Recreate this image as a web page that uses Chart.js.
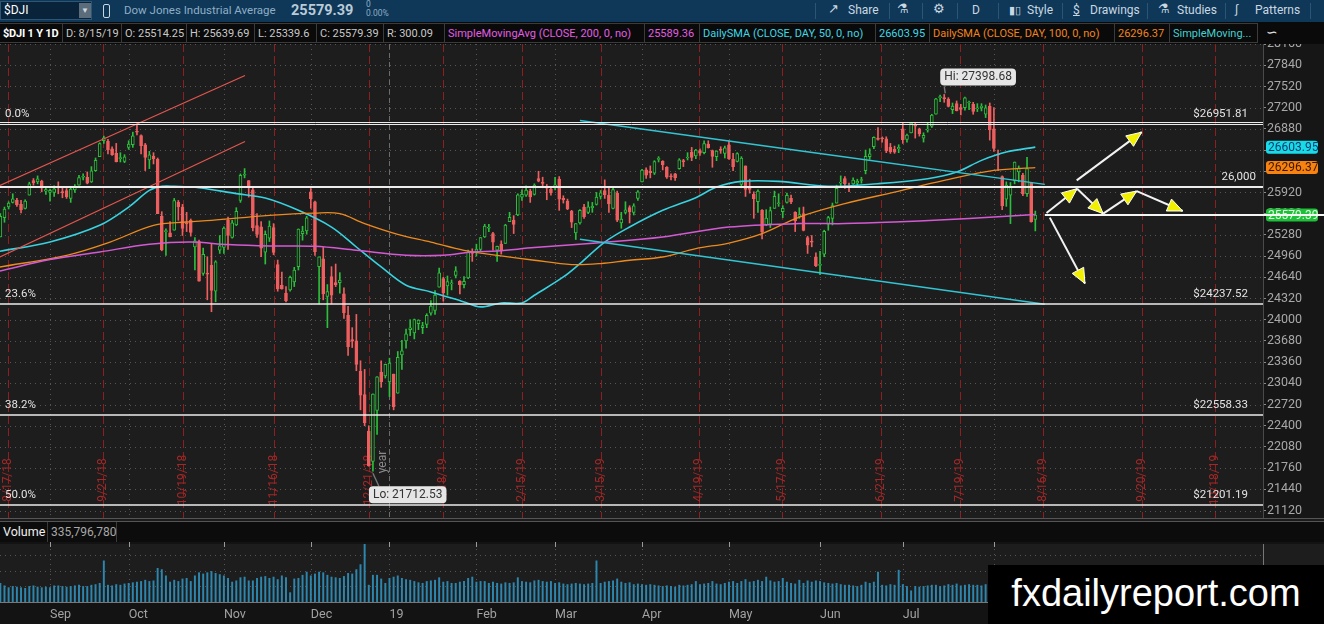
<!DOCTYPE html>
<html>
<head>
<meta charset="utf-8">
<title>$DJI 1 Y 1D</title>
<script src="https://cdn.jsdelivr.net/npm/chart.js@4.4.0/dist/chart.umd.min.js"></script>
<style>
  body { margin:0; width:1324px; height:624px; overflow:hidden; background:#161616; position:relative; font-family:Roboto,"Noto Sans",sans-serif; }
  .abs { position:absolute; white-space:nowrap; }
  #bar1 { left:0; top:0; width:1324px; height:22px; background:#0f3757; }
  #bar2 { left:0; top:22px; width:1324px; height:22px; background:#0a0a0a; }
  .t1 { color:#c9d7e2; font-size:12px; top:3px; }
  .sep { top:3px; width:1px; height:16px; background:#2b5575; }
  .cell { top:1px; height:20px; line-height:19px; font-size:11px; color:#c8c8c8; border:1px solid #3b3b3b; border-left:none; padding-left:3px; box-sizing:border-box; overflow:hidden; }
  #main { left:0; top:44px; }
  #volsep { left:0; top:518px; width:1324px; height:4px; border-top:1px solid #555; border-bottom:1px solid #555; box-sizing:border-box; background:#1b1b1b; }
  #volhead { left:0; top:522px; width:1324px; height:20px; background:#0c0c0c; }
  #vol { left:0; top:542px; }
  #wm { left:988px; top:565px; width:336px; height:59px; background:#000; color:#fff; font-family:"Liberation Sans",Arial,sans-serif; font-size:38px; line-height:56px; text-align:center; }
</style>
</head>
<body>
<div id="bar1" class="abs">
  <div class="abs" style="left:0;top:1px;width:92px;height:19px;background:#08233a;border:1px solid #2d5575;box-sizing:border-box;"></div>
  <div class="abs" style="left:4px;top:3px;color:#fff;font-size:12px;">$DJI</div>
  <div class="abs" style="left:79px;top:3px;width:12px;height:15px;background:#5b6d7b;color:#cfd8df;font-size:8px;line-height:15px;text-align:center;">&#9660;</div>
  <div class="abs" style="left:103px;top:4px;width:5px;height:12px;border:1px solid #c9d7e2;border-radius:2px;"></div>
  <div class="abs" style="left:124px;top:3px;color:#8eaec6;font-size:11.5px;">Dow Jones Industrial Average</div>
  <div class="abs" style="left:291px;top:2px;color:#b9cbd8;font-size:14.5px;font-weight:bold;">25579.39</div>
  <div class="abs" style="left:366px;top:0px;color:#8eaec6;font-size:8.5px;line-height:9px;">0<br>0.00%</div>
  <div class="abs sep" style="left:815px;"></div>
  <div class="abs t1" style="left:828px;font-size:13px;top:1px;">&#8599;</div>
  <div class="abs t1" style="left:848px;">Share</div>
  <div class="abs sep" style="left:889px;"></div>
  <div class="abs t1" style="left:897px;font-size:13px;top:1px;">&#9879;</div>
  <div class="abs sep" style="left:922px;"></div>
  <div class="abs t1" style="left:933px;font-size:13px;top:1px;">&#9881;</div>
  <div class="abs sep" style="left:957px;"></div>
  <div class="abs t1" style="left:972px;">D</div>
  <div class="abs sep" style="left:998px;"></div>
  <div class="abs t1" style="left:1009px;font-size:11px;top:4px;">&#9646;&#9647;</div>
  <div class="abs t1" style="left:1027px;">Style</div>
  <div class="abs sep" style="left:1062px;"></div>
  <div class="abs t1" style="left:1073px;text-decoration:underline;">$</div>
  <div class="abs t1" style="left:1090px;">Drawings</div>
  <div class="abs sep" style="left:1147px;"></div>
  <div class="abs t1" style="left:1158px;font-size:13px;top:1px;">&#9879;</div>
  <div class="abs t1" style="left:1177px;">Studies</div>
  <div class="abs sep" style="left:1225px;"></div>
  <div class="abs t1" style="left:1235px;font-size:12px;top:2px;">&#8747;</div>
  <div class="abs t1" style="left:1255px;">Patterns</div>
  <div class="abs sep" style="left:1310px;"></div>
</div>
<div id="bar2" class="abs">
  <div class="abs cell" style="left:0;width:63px;color:#fff;font-weight:bold;letter-spacing:-0.2px;">$DJI 1 Y 1D</div>
  <div class="abs cell" style="left:63px;width:59px;">D: 8/15/19</div>
  <div class="abs cell" style="left:122px;width:65px;">O: 25514.25</div>
  <div class="abs cell" style="left:187px;width:68px;">H: 25639.69</div>
  <div class="abs cell" style="left:255px;width:62px;">L: 25339.6</div>
  <div class="abs cell" style="left:317px;width:67px;">C: 25579.39</div>
  <div class="abs cell" style="left:384px;width:61px;">R: 300.09</div>
  <div class="abs cell" style="left:445px;width:200px;color:#e25ee2;">SimpleMovingAvg (CLOSE, 200, 0, no)</div>
  <div class="abs cell" style="left:645px;width:55px;color:#e25ee2;">25589.36</div>
  <div class="abs cell" style="left:700px;width:176px;color:#3fd6e6;">DailySMA (CLOSE, DAY, 50, 0, no)</div>
  <div class="abs cell" style="left:876px;width:54px;color:#3fd6e6;">26603.95</div>
  <div class="abs cell" style="left:930px;width:185px;color:#f0841f;">DailySMA (CLOSE, DAY, 100, 0, no)</div>
  <div class="abs cell" style="left:1115px;width:55px;color:#f0841f;">26296.37</div>
  <div class="abs cell" style="left:1170px;width:88px;color:#44d0d0;">SimpleMoving...</div>
  <div class="abs" style="left:1266px;top:2px;color:#ddd;font-size:14px;">&#8765;</div>
</div>
<canvas id="main" class="abs" width="1324" height="476"></canvas>
<div id="volsep" class="abs"></div>
<div id="volhead" class="abs">
  <div class="abs" style="left:3px;top:2px;color:#f0f0f0;font-size:12.5px;">Volume</div>
  <div class="abs" style="left:47px;top:0px;width:70px;height:20px;border-left:1px solid #3a3a3a;border-right:1px solid #3a3a3a;box-sizing:border-box;color:#a8a8a8;font-size:12px;line-height:20px;padding-left:3px;">335,796,780</div>
</div>
<canvas id="vol" class="abs" width="1324" height="82"></canvas>
<div id="wm" class="abs">fxdailyreport.com</div>

<script>
// trading-day index of the first candle (index 0 = 9/4/18, first session of September)
const firstIdx = -12;

// daily candles [open, high, low, close], 8/16/18 .. 8/15/19
const candles = [
  // Aug 2018
  [25250,25600,25250,25559],[25540,25700,25470,25669],[25700,25780,25670,25759],[25770,25900,25760,25822],[25800,25830,25710,25734],[25740,25800,25610,25657],
  [25680,25810,25670,25790],[25880,26075,25880,26050],[26100,26130,26030,26064],[26080,26170,26050,26125],[26090,26105,25930,25987],[25940,26010,25890,25965],
  // Sep
  [25920,25970,25790,25952],[25920,26020,25860,25975],[26000,26080,25900,25996],[25930,26000,25840,25917],[25950,25980,25830,25857],[25830,26000,25770,25971],
  [25960,26040,25920,25999],[26030,26180,26030,26146],[26150,26200,26110,26155],[26150,26230,26050,26062],[26080,26310,26070,26247],[26250,26440,26240,26406],
  [26460,26670,26460,26657],[26700,26770,26660,26744],[26690,26720,26500,26562],[26580,26610,26480,26492],[26510,26660,26380,26385],[26430,26520,26380,26440],
  [26390,26490,26370,26458],
  // Oct
  [26600,26700,26570,26651],[26640,26830,26600,26774],[26830,26952,26790,26828],[26780,26790,26500,26627],[26640,26660,26250,26447],[26410,26540,26280,26487],
  [26470,26520,26350,26431],[26420,26440,25600,25599],[25560,25630,25040,25053],[25330,25370,24970,25340],[25310,25480,25250,25251],[25350,25830,25350,25798],
  [25770,25800,25500,25707],[25700,25740,25270,25379],[25450,25620,25330,25444],[25500,25520,25260,25317],[25100,25240,24750,25191],[25180,25200,24580,24583],
  [24700,25080,24670,24985],[24700,24950,24300,24688],[24820,25150,24120,24443],[24430,24890,24270,24875],[25050,25270,25000,25116],
  // Nov
  [25090,25400,25000,25381],[25500,25550,25060,25271],[25240,25500,25230,25462],[25430,25690,25420,25635],[25800,26200,25770,26180],[26180,26280,26140,26191],
  [26100,26100,25850,25989],[25960,26010,25340,25387],[25420,25600,25240,25286],[25400,25480,24950,25081],[25020,25340,24840,25289],[25230,25490,25180,25413],
  [25390,25450,24980,25017],[24830,24900,24430,24466],[24520,24720,24460,24465],[24400,24500,24270,24286],[24450,24660,24430,24640],[24570,24790,24500,24749],
  [24800,25370,24750,25366],[25300,25410,25200,25339],[25340,25560,25290,25538],
  // Dec
  [25930,25980,25680,25826],[25780,25790,24970,25027],[24800,24950,24240,24948],[24920,25090,24300,24389],[24350,24530,23880,24423],[24650,24800,24240,24370],
  [24560,24840,24500,24527],[24560,24710,24400,24597],[24390,24480,24020,24101],[24070,24200,23460,23593],[23700,23880,23580,23676],[23680,24080,23230,23324],
  [23220,23380,22640,22860],[22870,23250,22400,22445],[22320,22400,21790,21792],[21860,22880,21713,22878],[22630,23140,22270,23139],[23210,23380,22980,23062],
  [23150,23330,23120,23327],
  // Jan 2019
  [23060,23420,22840,23346],[23180,23180,22640,22686],[22890,23520,22890,23433],[23470,23690,23250,23531],[23680,23860,23570,23787],[23850,24000,23760,23879],
  [23800,24010,23710,24002],[23940,24000,23850,23996],[23880,23960,23790,23910],[23930,24090,23880,24066],[24100,24290,24070,24207],[24140,24440,24080,24370],
  [24490,24780,24490,24706],[24620,24640,24280,24404],[24510,24660,24370,24576],[24540,24600,24450,24553],[24670,24800,24630,24737],[24580,24590,24390,24528],
  [24530,24650,24480,24580],[24630,25050,24620,25015],[25020,25070,24880,25000],
  // Feb
  [25030,25140,24960,25064],[25060,25240,25030,25239],[25250,25440,25240,25412],[25380,25440,25330,25390],[25300,25320,25050,25170],[25050,25110,24880,25106],
  [25140,25190,24990,25053],[25150,25440,25150,25426],[25480,25620,25480,25543],[25500,25570,25300,25439],[25580,25900,25570,25883],[25850,25960,25800,25891],
  [25880,26020,25860,25954],[25940,25970,25770,25851],[25890,26050,25880,26032],[26130,26240,26080,26092],[26060,26150,25990,26058],[25990,26040,25810,25985],
  [25970,26000,25880,25916],
  // Mar
  [26020,26150,25960,26026],[26120,26160,25650,25820],[25830,25870,25760,25807],[25790,25820,25660,25673],[25640,25650,25390,25473],[25310,25450,25210,25450],
  [25460,25660,25440,25651],[25700,25740,25530,25555],[25620,25780,25600,25703],[25690,25770,25620,25710],[25740,25920,25730,25849],[25860,25950,25820,25914],
  [25950,26110,25830,25887],[25880,25990,25620,25746],[25680,26000,25670,25963],[25910,25940,25480,25502],[25460,25620,25380,25517],[25620,25780,25600,25658],
  [25690,25720,25460,25626],[25620,25750,25580,25717],[25830,25950,25800,25929],
  // Apr
  [26080,26270,26080,26258],[26260,26290,26130,26179],[26240,26320,26140,26218],[26210,26400,26190,26385],[26420,26460,26380,26425],[26390,26400,26260,26341],
  [26300,26310,26130,26151],[26170,26200,26110,26157],[26200,26210,26100,26143],[26280,26430,26270,26412],[26400,26420,26310,26385],[26440,26520,26410,26453],
  [26530,26600,26400,26450],[26470,26570,26430,26560],[26550,26580,26480,26511],[26520,26700,26500,26656],[26650,26700,26590,26597],[26550,26560,26300,26462],
  [26460,26550,26400,26543],[26560,26610,26510,26554],[26510,26620,26440,26593],
  // May
  [26640,26700,26420,26430],[26420,26510,26250,26308],[26390,26520,26380,26505],[26040,26460,25990,26438],[26320,26320,25860,25965],[25970,26120,25910,25967],
  [25890,25930,25530,25828],[25780,25960,25620,25942],[25650,25660,25220,25325],[25430,25660,25420,25532],[25440,25700,25390,25648],[25680,25940,25680,25863],
  [25750,25900,25710,25764],[25630,25720,25540,25680],[25770,25910,25760,25877],[25830,25880,25750,25777],[25620,25630,25330,25490],[25560,25690,25530,25586],
  [25600,25700,25340,25348],[25240,25260,25000,25126],[25180,25270,25100,25170],[24950,25010,24800,24815],
  // Jun
  [24820,25030,24680,24820],[24990,25350,24950,25332],[25440,25560,25350,25540],[25530,25760,25430,25721],[25760,26030,25760,25984],[26060,26170,26020,26063],
  [26130,26160,25980,26049],[26020,26060,25930,26005],[26050,26140,26040,26107],[26060,26120,26000,26090],[26100,26150,26060,26113],[26250,26560,26200,26466],
  [26460,26580,26420,26504],[26610,26760,26580,26753],[26740,26900,26710,26719],[26740,26760,26680,26728],[26730,26760,26520,26548],[26600,26660,26510,26537],
  [26570,26620,26510,26527],[26580,26640,26520,26600],
  // Jul
  [26880,26970,26660,26717],[26720,26800,26680,26787],[26820,26970,26820,26966],[26930,26970,26740,26922],[26880,26890,26770,26806],[26740,26820,26680,26783],
  [26860,26970,26830,26860],[26920,27100,26900,27088],[27100,27340,27100,27332],[27350,27390,27290,27359],[27340,27399,27280,27336],[27330,27350,27210,27220],
  [27170,27270,27110,27223],[27260,27300,27150,27154],[27200,27250,27090,27172],[27200,27360,27160,27349],[27270,27300,27170,27270],[27250,27280,27100,27141],
  [27180,27260,27140,27192],[27200,27260,27150,27221],[27100,27240,27050,27198],[27220,27270,26710,26864],
  // Aug
  [26880,27200,26540,26583],[26490,26560,26250,26485],[26160,26170,25660,25718],[25820,26080,25710,26030],[25880,26070,25450,26007],[26100,26380,26050,26378],
  [26230,26320,26080,26287],[26180,26210,25870,25898],[25900,26450,25860,26280],[26060,26060,25470,25479],[25514.25,25639.69,25339.6,25579.39]
];

// daily volume, millions of shares
const volumes = [
  300,260,230,250,240,230,220,250,260,240,230,240,
  230,260,260,250,240,250,260,270,250,250,270,280,300,660,270,260,280,270,290,
  300,310,320,330,350,330,340,540,520,420,320,350,330,370,380,330,420,470,450,470,490,460,440,
  420,380,320,340,390,400,340,340,380,400,410,380,400,360,420,390,150,370,380,430,480,
  420,450,480,470,430,400,390,380,410,460,450,520,600,930,270,430,430,370,300,
  380,400,420,380,360,350,330,310,300,330,340,350,390,320,330,300,300,320,330,380,400,
  320,330,330,300,320,300,290,310,300,310,390,330,320,310,340,350,330,320,330,
  300,310,290,280,290,300,290,280,290,300,660,300,320,330,340,370,320,300,310,280,290,
  280,270,280,270,260,250,260,250,240,270,260,270,280,330,280,290,300,330,290,280,300,
  320,330,300,330,360,320,330,350,330,400,340,320,330,380,320,300,290,350,300,340,320,340,
  330,310,300,290,300,280,270,270,260,250,270,320,300,320,480,270,260,280,270,510,
  280,250,180,250,240,250,260,270,270,250,260,280,270,290,260,270,280,270,270,260,280,360,
  400,380,420,380,370,330,300,290,300,400,336
];

// moving averages: [trading-day index, value]
const sma200 = [[-12.1,24735],[0,24907],[12,25022],[24,25138],[34,25172],[43,25133],[53,25112],[64,25107],[74,25047],[86,24972],[95,24972],[102,25022],
  [108,25037],[117,25088],[132,25157],[148,25248],[164,25398],[181,25450],[192,25450],[204,25474],[216,25510],[228,25549],[238,25589]];
const sma50 = [[-12.1,25032],[0,25172],[12,25424],[19,25700],[24,25951],[27,26012],[30,26012],[36,25992],[45,25902],[52,25835],[60,25650],[68,25398],
  [74,25097],[80,24796],[86,24520],[92,24419],[100,24268],[104,24193],[109,24253],[114,24253],[117,24369],[124,24645],[128,24847],[134,25172],[140,25398],
  [148,25650],[156,25841],[161,26001],[167,26087],[176,26087],[188,26012],[200,26052],[212,26128],[219,26227],[225,26404],[231,26529],[238,26604]];
const sma100 = [[-12.1,24795],[4,24972],[14.5,25172],[25,25424],[33,25474],[39,25499],[53,25575],[64,25609],[70,25600],[76,25450],[84,25288],[92,25172],
  [100,25047],[108,24972],[117,24897],[126,24832],[133,24847],[140,24897],[148,24946],[156,25073],[164,25157],[172,25299],[181,25549],[192,25751],
  [204,25926],[216,26102],[228,26253],[238,26296]];

// axis labels
const yTicks = [21120,21440,21760,22080,22400,22720,23040,23360,23680,24000,24320,24640,24960,25280,25600,25920,26240,26560,26880,27200,27520,27840,28160];
const monthIdx = [0,19,42,63,82,103,122,143,164,186,206,228];
const monthNames = ['Sep','Oct','Nov','Dec','19','Feb','Mar','Apr','May','Jun','Jul','Aug'];
const expiryIdx = [-10.1,12.9,32.1,54,77.1,94.9,113.9,133,156.8,176.7,200.7,219.7,239.8,263.7,281.4];
const expiryNames = ['8/17/18','9/21/18','10/19/18','11/16/18','12/21/18','1/18/19','2/15/19','3/15/19','4/19/19','5/17/19','6/21/19','7/19/19','8/16/19','9/20/19','10/18/19'];
const yearIdx = 82;

// drawn studies
const fibValues = [26951.81, 24237.52, 22558.33, 21201.19];
const fibNames = ['0.0%', '23.6%', '38.2%', '50.0%'];
const roundLevel = 26000;
const lastClose = 25579.39;
const redChannel = [[[-12.1,26027],[47.1,27685]], [[-12.1,24946],[47.1,26690]]];
const cyanChannel = [[[128,27007],[240.3,26042]], [[128,25213],[240.3,24233]]];
const arrowPaths = [
  [248.0,26102,263.7,26830],
  [240.7,25609,248.1,25977],
  [248.1,25977,254.4,25600],
  [254.4,25600,262.5,25941],
  [262.5,25941,273.6,25640],
  [241.5,25540,250.0,24545]
];
const hiPoint = [216, 27398.68];
const loPoint = [78, 21712.53];
const studyValues = [26603.95, 26296.37, 25579.39];

const xMin = -12.08, xMax = 293;
const UP = '#2bbf3c', DOWN = '#ef5f5f', PANE = '#1d1d1d';

const up = candles.map(c => c[3] >= c[0]);
const wickData = candles.map((c, i) => ({ x: firstIdx + i, y: [c[2], c[1]] }));
const bodyData = candles.map((c, i) => ({ x: firstIdx + i, y: [c[0], c[3]] }));
const toPts = arr => arr.map(p => ({ x: p[0], y: p[1] }));

function seg(ctx, x1, y1, x2, y2) {
  ctx.beginPath(); ctx.moveTo(x1, y1); ctx.lineTo(x2, y2); ctx.stroke();
}

function arrow(ctx, x1, y1, x2, y2) {
  ctx.setLineDash([]);
  ctx.strokeStyle = '#f2f2f2'; ctx.lineWidth = 2;
  seg(ctx, x1, y1, x2, y2);
  const a = Math.atan2(y2 - y1, x2 - x1), L = 15, W = 6.5;
  const bx = x2 - L * Math.cos(a), by = y2 - L * Math.sin(a);
  ctx.beginPath();
  ctx.moveTo(x2, y2);
  ctx.lineTo(bx + W * Math.sin(a), by - W * Math.cos(a));
  ctx.lineTo(bx - W * Math.sin(a), by + W * Math.cos(a));
  ctx.closePath();
  ctx.fillStyle = '#f0f000'; ctx.fill();
  ctx.lineWidth = 1; ctx.strokeStyle = '#ffffff'; ctx.stroke();
}

function tag(ctx, text, x, y, fill, color) {
  ctx.font = '12px Roboto, sans-serif';
  const w = ctx.measureText(text).width + 8;
  ctx.fillStyle = fill;
  ctx.beginPath(); ctx.roundRect(x, y, w, 17, 4); ctx.fill();
  ctx.fillStyle = color; ctx.textAlign = 'left'; ctx.textBaseline = 'middle';
  ctx.fillText(text, x + 4, y + 9);
}

const paneDecor = {
  id: 'paneDecor',
  beforeDraw(chart) {
    const { ctx, chartArea: a } = chart;
    ctx.save();
    ctx.fillStyle = '#161616'; ctx.fillRect(0, 0, chart.width, chart.height);
    ctx.fillStyle = PANE; ctx.fillRect(a.left, a.top, a.right - a.left, a.bottom - a.top);
    ctx.restore();
  },
  beforeDatasetsDraw(chart) {
    const { ctx, chartArea: a, scales: { x, y } } = chart;
    ctx.save();
    ctx.lineWidth = 1;
    ctx.strokeStyle = '#555'; ctx.setLineDash([1, 4]);
    yTicks.forEach(v => { const py = Math.round(y.getPixelForValue(v)) + 0.5; seg(ctx, a.left, py, a.right, py); });
    monthIdx.forEach(m => { const px = Math.round(x.getPixelForValue(m)) + 0.5; seg(ctx, px, a.top, px, a.bottom); });

    const yx = Math.round(x.getPixelForValue(yearIdx)) + 0.5;
    ctx.strokeStyle = '#6c6c6c'; ctx.setLineDash([5, 4]);
    seg(ctx, yx, a.top, yx, a.bottom);

    ctx.strokeStyle = '#8c1f1f'; ctx.setLineDash([8, 4]);
    expiryIdx.forEach(e => { const px = Math.round(x.getPixelForValue(e)) + 0.5; seg(ctx, px, a.top, px, a.bottom); });

    ctx.font = '12px Roboto, sans-serif';
    ctx.textAlign = 'center'; ctx.textBaseline = 'middle';
    ctx.fillStyle = '#a52828';
    expiryIdx.forEach((e, i) => {
      ctx.save();
      ctx.translate(x.getPixelForValue(e), 436);
      ctx.rotate(-Math.PI / 2);
      ctx.fillText(expiryNames[i], 0, 0);
      ctx.restore();
    });
    ctx.fillStyle = '#8a8a8a';
    ctx.save(); ctx.translate(yx - 7, 418); ctx.rotate(-Math.PI / 2); ctx.fillText('year', 0, 0); ctx.restore();
    ctx.restore();
  },
  afterDatasetsDraw(chart) {
    const { ctx, chartArea: a, scales: { x, y } } = chart;
    ctx.save();
    ctx.setLineDash([]);
    ctx.strokeStyle = '#ececec';
    ctx.font = '11.5px Roboto, sans-serif';
    ctx.textBaseline = 'middle';
    fibValues.forEach((v, i) => {
      const py = Math.round(y.getPixelForValue(v));
      if (i === 0) { ctx.lineWidth = 1; seg(ctx, a.left, py - 1.5, a.right, py - 1.5); seg(ctx, a.left, py + 0.5, a.right, py + 0.5); }
      else { ctx.lineWidth = 1.5; seg(ctx, a.left, py, a.right, py); }
      ctx.fillStyle = '#e4e4e4';
      ctx.textAlign = 'left'; ctx.fillText(fibNames[i], a.left + 5, py - 10);
      ctx.textAlign = 'right'; ctx.fillText('$' + v.toFixed(2), a.right - 15, py - 10);
    });
    const ry = Math.round(y.getPixelForValue(roundLevel));
    ctx.lineWidth = 2; seg(ctx, a.left, ry, a.right, ry);
    ctx.textAlign = 'right'; ctx.fillText('26,000', a.right - 7, ry - 10);

    ctx.lineWidth = 1.4; ctx.strokeStyle = '#777';
    const hx = x.getPixelForValue(hiPoint[0]), hy = y.getPixelForValue(hiPoint[1]);
    seg(ctx, hx + 1, hy - 1, hx, hy - 8);
    tag(ctx, 'Hi: ' + hiPoint[1].toFixed(2), hx - 4, hy - 26, '#e6e6e6', '#333');
    const lx = x.getPixelForValue(loPoint[0]), ly = y.getPixelForValue(loPoint[1]);
    seg(ctx, lx, ly + 2, lx + 6, ly + 15);
    tag(ctx, 'Lo: ' + loPoint[1].toFixed(2), lx - 4, ly + 15, '#e6e6e6', '#333');

    arrowPaths.forEach(p => arrow(ctx, x.getPixelForValue(p[0]), y.getPixelForValue(p[1]), x.getPixelForValue(p[2]), y.getPixelForValue(p[3])));
    ctx.restore();
  },
  afterDraw(chart) {
    const { ctx, chartArea: a, scales: { x, y } } = chart;
    ctx.save();
    const fills = ['#19dbe8', '#f7820f', '#1fbf3a'];
    const inks = ['#0b3c6e', '#3a1800', '#d8ffd8'];
    ctx.font = '12px Roboto, sans-serif';
    studyValues.forEach((v, i) => {
      const py = y.getPixelForValue(v);
      ctx.fillStyle = fills[i];
      ctx.beginPath(); ctx.roundRect(a.right + 3, py - 6.5, 52, 13, 3); ctx.fill();
      ctx.fillStyle = inks[i]; ctx.textAlign = 'left'; ctx.textBaseline = 'middle';
      ctx.fillText(v.toFixed(2), a.right + 5, py + 0.5);
    });
    const cy = Math.round(y.getPixelForValue(lastClose));
    ctx.strokeStyle = '#f4f4f4'; ctx.lineWidth = 2;
    seg(ctx, x.getPixelForValue(240.3), cy, chart.width, cy);
    ctx.restore();
  }
};

const lineDs = (pts, color, width, order) => ({
  type: 'line', data: toPts(pts), borderColor: color, borderWidth: width,
  pointRadius: 0, fill: false, tension: 0.35, order: order
});

new Chart(document.getElementById('main'), {
  type: 'bar',
  data: {
    datasets: [
      { data: wickData, backgroundColor: up.map(u => u ? UP : DOWN), borderWidth: 0,
        barThickness: 1, grouped: false, order: 6 },
      { data: bodyData, backgroundColor: up.map(u => u ? PANE : DOWN), borderColor: up.map(u => u ? UP : DOWN),
        borderWidth: 1, borderSkipped: false, barThickness: 3, minBarLength: 1, grouped: false, order: 5 },
      lineDs(sma200, '#d45ad4', 1.5, 3),
      lineDs(sma100, '#ec8a1e', 1.3, 3),
      lineDs(sma50, '#38d2e0', 1.6, 3),
      lineDs(redChannel[0], '#e2564f', 1.2, 2),
      lineDs(redChannel[1], '#e2564f', 1.2, 2),
      lineDs(cyanChannel[0], '#33c4d2', 1.5, 2),
      lineDs(cyanChannel[1], '#33c4d2', 1.5, 2)
    ]
  },
  options: {
    responsive: false,
    animation: false,
    layout: { padding: { top: 0, bottom: 2, left: 0, right: 0 } },
    plugins: { legend: { display: false }, tooltip: { enabled: false } },
    scales: {
      x: { type: 'linear', min: xMin, max: xMax, offset: false, display: false },
      y: {
        type: 'linear', position: 'right', min: 21008, max: 28160,
        afterBuildTicks(s) { s.ticks = yTicks.map(v => ({ value: v })); },
        afterFit(s) { s.width = 61; s.paddingTop = 0; s.paddingBottom = 0; },
        grid: { drawOnChartArea: false, drawTicks: true, tickLength: 3, color: '#8a8a8a' },
        border: { display: true, color: '#4a4a4a' },
        ticks: { color: '#a8a8a8', padding: 1, font: { family: 'Roboto, sans-serif', size: 12.5 }, callback: v => String(v) }
      }
    }
  },
  plugins: [paneDecor]
});

const volDecor = {
  id: 'volDecor',
  beforeDraw(chart) {
    const { ctx, chartArea: a } = chart;
    ctx.save();
    ctx.fillStyle = '#131313'; ctx.fillRect(0, 0, chart.width, chart.height);
    ctx.fillStyle = PANE; ctx.fillRect(a.left, a.top, chart.width - a.left, a.bottom - a.top);
    ctx.restore();
  },
  beforeDatasetsDraw(chart) {
    const { ctx, chartArea: a, scales: { x, y } } = chart;
    ctx.save();
    ctx.lineWidth = 1; ctx.strokeStyle = '#555'; ctx.setLineDash([1, 4]);
    [250, 500, 750].forEach(v => { const py = Math.round(y.getPixelForValue(v)) + 0.5; seg(ctx, a.left, py, a.right, py); });
    monthIdx.forEach(m => { const px = Math.round(x.getPixelForValue(m)) + 0.5; seg(ctx, px, a.top, px, a.bottom); });
    ctx.setLineDash([]); ctx.strokeStyle = '#9a9a9a';
    monthIdx.forEach(m => { const px = Math.round(x.getPixelForValue(m)) + 0.5; seg(ctx, px, a.top - 2, px, a.top + 3); });
    ctx.strokeStyle = '#777';
    seg(ctx, a.left, a.bottom + 0.5, a.right, a.bottom + 0.5);
    seg(ctx, a.right + 0.5, a.top, a.right + 0.5, a.bottom);
    ctx.restore();
  }
};

new Chart(document.getElementById('vol'), {
  type: 'bar',
  data: {
    datasets: [{
      data: volumes.map((v, i) => ({ x: firstIdx + i, y: v })),
      backgroundColor: '#2d86ad', barThickness: 1.3, borderWidth: 0
    }]
  },
  options: {
    responsive: false,
    animation: false,
    layout: { padding: { top: 2, right: 61, left: 0, bottom: 0 } },
    plugins: { legend: { display: false }, tooltip: { enabled: false } },
    scales: {
      x: {
        type: 'linear', min: xMin, max: xMax, offset: false,
        afterBuildTicks(s) { s.ticks = monthIdx.map(v => ({ value: v })); },
        afterFit(s) { s.height = 22; },
        grid: { display: false, drawTicks: false },
        border: { display: false },
        ticks: {
          autoSkip: false, maxRotation: 0, align: 'start', padding: 5, color: '#a2a2a2',
          font: { family: 'Roboto, sans-serif', size: 12.5 },
          callback: v => { const k = monthIdx.indexOf(v); return k >= 0 ? monthNames[k] : ''; }
        }
      },
      y: { display: false, min: 0, max: 930 }
    }
  },
  plugins: [volDecor]
});
</script>
</body>
</html>
